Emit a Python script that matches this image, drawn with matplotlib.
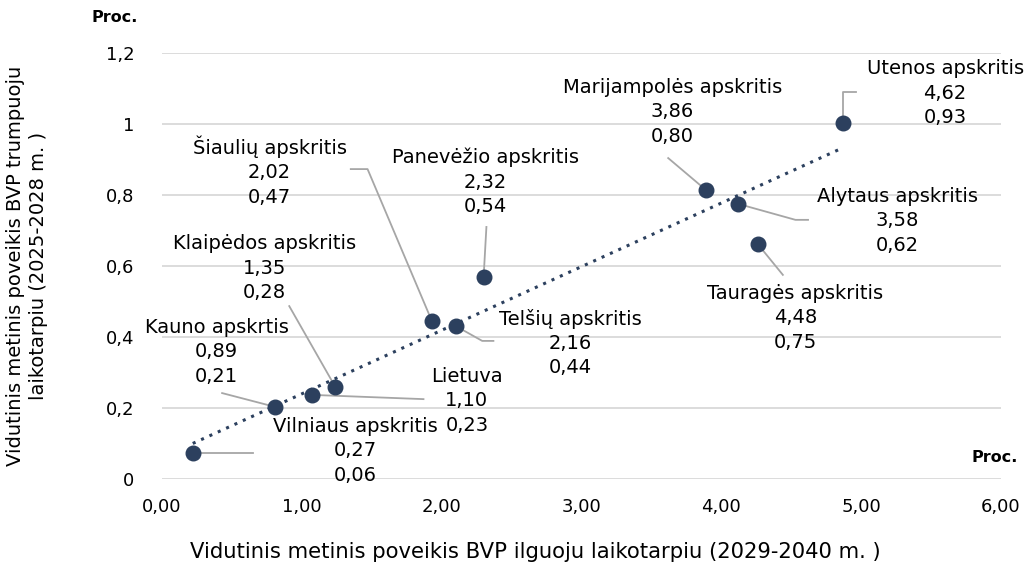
import numpy as np
import matplotlib
matplotlib.use("Agg")
import matplotlib.pyplot as plt

plt.rcParams['font.family'] = ['DejaVu Sans']

# duomenys (nuskaityti nuo paveikslo)
regionai = ["Vilniaus apskritis", "Kauno apskrtis", "Lietuva", "Klaipėdos apskritis",
            "Šiaulių apskritis", "Telšių apskritis", "Panevėžio apskritis",
            "Marijampolės apskritis", "Alytaus apskritis", "Tauragės apskritis",
            "Utenos apskritis"]
ilgas = [0.22, 0.81, 1.07, 1.24, 1.93, 2.10, 2.30, 3.89, 4.12, 4.26, 4.87]
trumpas = [0.073, 0.203, 0.237, 0.259, 0.445, 0.431, 0.569, 0.814, 0.775, 0.662, 1.003]
etiketes_x = ["0,27", "0,89", "1,10", "1,35", "2,02", "2,16", "2,32", "3,86", "3,58", "4,48", "4,62"]
etiketes_y = ["0,06", "0,21", "0,23", "0,28", "0,47", "0,44", "0,54", "0,80", "0,62", "0,75", "0,93"]

x_ticks = [0, 1, 2, 3, 4, 5, 6]
x_tick_labels = ["0,00", "1,00", "2,00", "3,00", "4,00", "5,00", "6,00"]
y_ticks = [0, 0.2, 0.4, 0.6, 0.8, 1.0, 1.2]
y_tick_labels = ["0", "0,2", "0,4", "0,6", "0,8", "1", "1,2"]

# etikečių vietos (centras) ir linijų galai
etik_vieta = [(1.38, 0.079), (0.39, 0.358), (2.18, 0.220), (0.73, 0.594),
              (0.77, 0.868), (2.92, 0.383), (2.31, 0.837), (3.65, 1.034),
              (5.26, 0.727), (4.53, 0.454), (5.60, 1.087)]
linijos = [[(0.65, 0.073)], [(0.43, 0.242)], [(1.87, 0.225)], [(0.91, 0.487)],
           [(1.47, 0.873), (1.35, 0.873)], [(2.29, 0.389), (2.37, 0.389)],
           [(2.32, 0.710)], [(3.62, 0.904)], [(4.53, 0.730), (4.62, 0.730)],
           [(4.44, 0.575)], [(4.87, 1.090), (4.96, 1.090)]]

spalva = "#2c405e"
pilka = "#a6a6a6"

fig = plt.figure(figsize=(10.29, 5.74), dpi=100)
ax = fig.add_axes([162/1029, 1 - 479/574, (1001-162)/1029, (479-53)/574])

ax.set_xlim(0, 6)
ax.set_ylim(0, 1.2)
ax.set_yticks(y_ticks)
ax.set_yticklabels(y_tick_labels, fontsize=13)
ax.set_xticks(x_ticks)
ax.set_xticklabels(x_tick_labels, fontsize=13)
ax.tick_params(length=0, pad=14)
ax.tick_params(axis='y', pad=20)
for s in ax.spines.values():
    s.set_visible(False)
ax.grid(axis='y', color='#d9d9d9', lw=1.3)
ax.set_axisbelow(True)

# vedamosios linijos
for i in range(len(ilgas)):
    xs = [ilgas[i]] + [p[0] for p in linijos[i]]
    ys = [trumpas[i]] + [p[1] for p in linijos[i]]
    ax.plot(xs, ys, color=pilka, lw=1.3, zorder=2, clip_on=False)

# tendencijos linija
k, b = np.polyfit(ilgas, trumpas, 1)
tx = np.array([min(ilgas), max(ilgas)])
ax.plot(tx, k * tx + b, color=spalva, lw=2.2, ls=(0, (1, 2)), zorder=3)

ax.scatter(ilgas, trumpas, s=110, color=spalva, zorder=4)

for i in range(len(ilgas)):
    ax.text(etik_vieta[i][0], etik_vieta[i][1],
            regionai[i] + "\n" + etiketes_x[i] + "\n" + etiketes_y[i],
            ha='center', va='center', fontsize=14, linespacing=1.36, zorder=5)

fig.text(115/1029, 1 - 18/574, "Proc.", fontsize=11.5, fontweight='bold', ha='center', va='center')
fig.text(995/1029, 1 - 457/574, "Proc.", fontsize=11.5, fontweight='bold', ha='center', va='center')

fig.text(535/1029, 1 - 552/574, "Vidutinis metinis poveikis BVP ilguoju laikotarpiu (2029-2040 m. )",
         fontsize=15.2, ha='center', va='center')
fig.text(27/1029, 1 - 266/574, "Vidutinis metinis poveikis BVP trumpuoju\nlaikotarpiu (2025-2028 m. )",
         fontsize=14, ha='center', va='center', rotation=90, linespacing=1.25)

fig.savefig("out.png", dpi=100)
